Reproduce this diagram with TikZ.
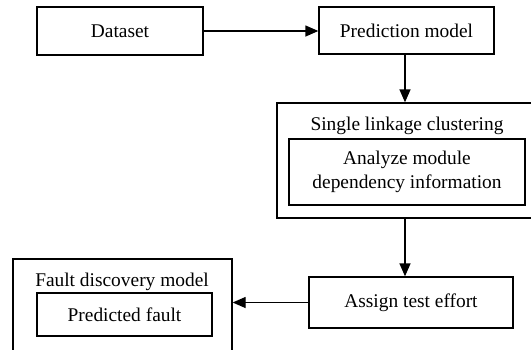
\documentclass[tikz,border=0pt]{standalone}
\usepackage{fontspec}
\setmainfont{Liberation Serif}
\usetikzlibrary{arrows.meta}
\begin{document}
\begin{tikzpicture}[x=1pt,y=-1pt,
  box/.style={draw, line width=1.3pt, inner sep=0pt, align=center,
    font=\fontsize{19.4}{24}\selectfont},
  label/.style={inner sep=0pt, align=center, font=\fontsize{19.4}{24}\selectfont},
  flow/.style={line width=1.3pt, -{Triangle[length=13pt,width=11pt]}}]
  \useasboundingbox (0,0) rectangle (531,349);
  \clip (0,0) rectangle (531,349);

  % top row
  \node[box, minimum width=166pt, minimum height=48pt] (data) at (120,31) {Dataset};
  \node[box, minimum width=175pt, minimum height=47pt] (pred) at (406.5,30.5) {Prediction model};

  % clustering group (runs past the right edge)
  \node[box, minimum width=300pt, minimum height=115pt] (cluster) at (427,160.5) {};
  \node[label] (clustertitle) at (407,126) {Single linkage clustering};
  \node[box, minimum width=236pt, minimum height=66pt] (analyze) at (407,172) {Analyze module\\dependency information};

  % effort assignment
  \node[box, minimum width=204pt, minimum height=51pt] (assign) at (411,302.5) {Assign test effort};

  % fault discovery group (runs past the bottom edge)
  \node[box, minimum width=219pt, minimum height=110pt] (fault) at (122.5,314) {};
  \node[label] (faulttitle) at (122,282) {Fault discovery model};
  \node[box, minimum width=175pt, minimum height=43pt] (predfault) at (124.5,314.5) {Predicted fault};

  % connectors
  \draw[flow] (data.east) -- (data.east -| pred.west);
  \draw[flow] (pred.south -| 405,0) -- (cluster.north -| 405,0);
  \draw[flow] (cluster.south -| 405,0) -- (assign.north -| 405,0);
  \draw[flow] (assign.west) -- (assign.west -| fault.east);
\end{tikzpicture}
\end{document}
